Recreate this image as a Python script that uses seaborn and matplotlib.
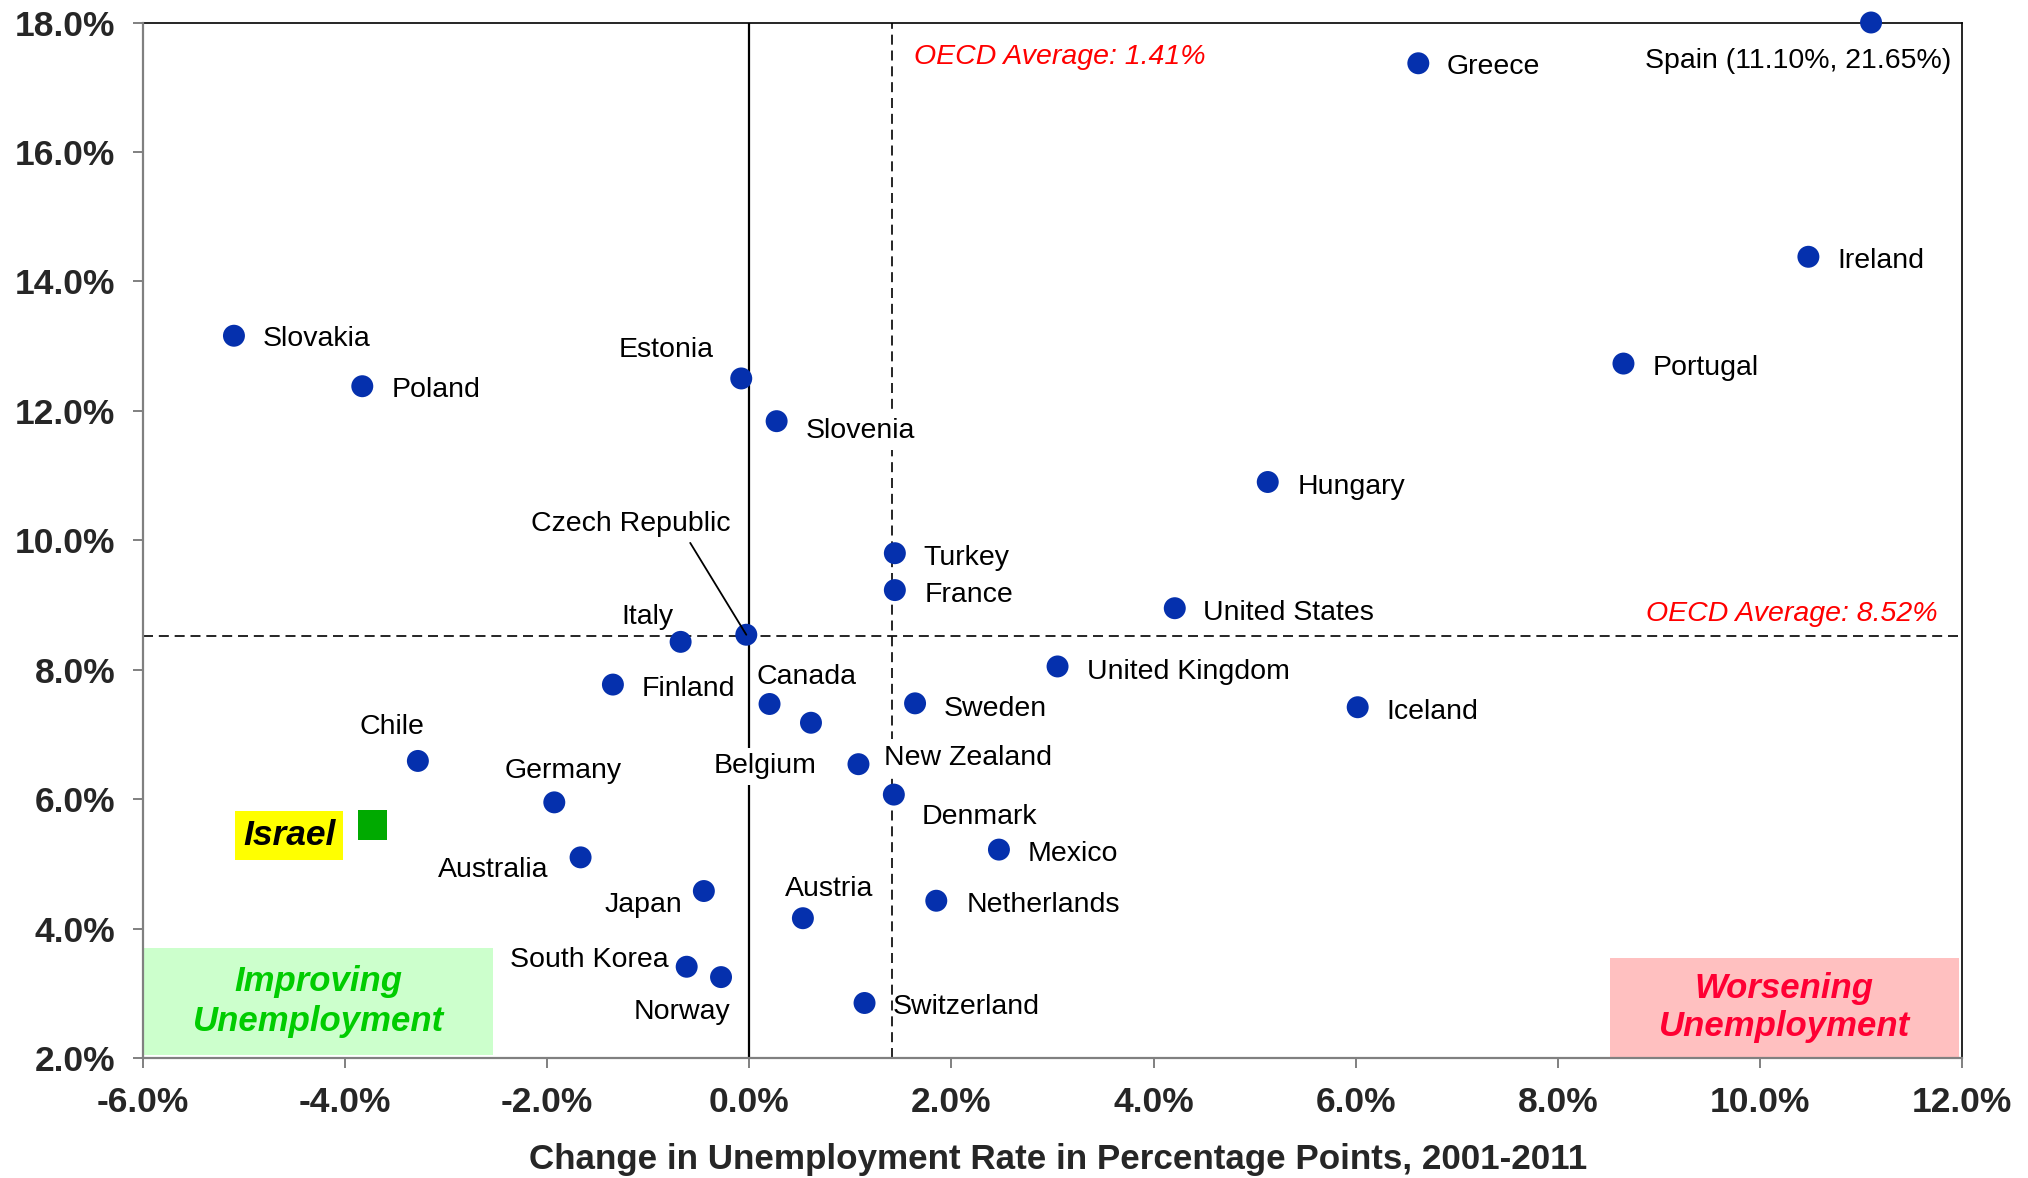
import numpy as np
import pandas as pd
import matplotlib
matplotlib.use("Agg")
import matplotlib.pyplot as plt
import seaborn as sns
from matplotlib.patches import Rectangle

# --- data: change in unemployment rate (pp, 2001-2011) vs. 2011 unemployment rate (%) ---
countries = [
    "Slovakia", "Poland", "Estonia", "Slovenia", "Czech Republic", "Italy",
    "Finland", "Canada", "Belgium", "New Zealand", "Denmark", "Chile",
    "Germany", "Australia", "Japan", "Austria", "South Korea", "Norway",
    "Switzerland", "Netherlands", "Mexico", "Sweden", "France", "Turkey",
    "United Kingdom", "United States", "Hungary", "Iceland", "Greece",
    "Portugal", "Ireland", "Spain (11.10%, 21.65%)",
]
change = [
    -5.10, -3.83, -0.08, 0.27, -0.03, -0.68,
    -1.35, 0.20, 0.61, 1.08, 1.43, -3.28,
    -1.93, -1.67, -0.45, 0.53, -0.62, -0.28,
    1.14, 1.85, 2.47, 1.64, 1.44, 1.44,
    3.05, 4.21, 5.13, 6.02, 6.62,
    8.65, 10.48, 11.10,
]
rate = [
    13.16, 12.38, 12.50, 11.84, 8.54, 8.43,
    7.77, 7.47, 7.18, 6.54, 6.07, 6.59,
    5.95, 5.10, 4.58, 4.16, 3.41, 3.25,
    2.85, 4.43, 5.22, 7.48, 9.23, 9.80,
    8.05, 8.95, 10.90, 7.42, 17.37,
    12.73, 14.38, 21.65,
]

israel_change = [-3.73]
israel_rate = [5.60]

oecd_avg_change = 1.41
oecd_avg_rate = 8.52

x_ticks = [-6, -4, -2, 0, 2, 4, 6, 8, 10, 12]
y_ticks = [2, 4, 6, 8, 10, 12, 14, 16, 18]
x_label = "Change in Unemployment Rate in Percentage Points, 2001-2011"

# --- label placement: offset from the marker in pixels (dx, dy up), alignment ---
PX = 0.72      # points per pixel at 100 dpi
BASE_DY = -3.5  # small downward nudge so the glyphs sit level with the markers
label_layout = {
    "Slovakia": (29, 0, "left"),
    "Poland": (29, 0, "left"),
    "Estonia": (-28, 31.6, "right"),
    "Slovenia": (28.6, -6.7, "left"),
    "Italy": (-6.7, 28.4, "right"),
    "Finland": (28.5, -0.7, "left"),
    "Canada": (-12.6, 30.7, "left"),
    "Belgium": (6, -40, "right"),
    "New Zealand": (26, 10, "left"),
    "Denmark": (28, -19, "left"),
    "Chile": (6.25, 37.4, "right"),
    "Germany": (8.7, 34.4, "center"),
    "Australia": (-32.6, -9.4, "right"),
    "Japan": (-21.7, -10.7, "right"),
    "Austria": (26, 33, "center"),
    "South Korea": (-17.9, 10, "right"),
    "Norway": (9.6, -31.3, "right"),
    "Switzerland": (28, -0.7, "left"),
    "Netherlands": (30, -1, "left"),
    "Mexico": (29, -0.7, "left"),
    "Sweden": (28.5, -1.7, "left"),
    "France": (30, -1.7, "left"),
    "Turkey": (29, -1.7, "left"),
    "United Kingdom": (29, -1.6, "left"),
    "United States": (28.6, -1, "left"),
    "Hungary": (29.4, -1, "left"),
    "Iceland": (29, -1, "left"),
    "Greece": (28.4, 0, "left"),
    "Portugal": (29, -1, "left"),
    "Ireland": (29, -0.6, "left"),
    "Spain (11.10%, 21.65%)": (80, -34.7, "right"),
}
# labels drawn on a white background so guide lines pass behind them
boxed_labels = {"Belgium", "New Zealand", "Slovenia"}

sns.set_style("white")
plt.rcParams["font.family"] = ["Liberation Sans", "DejaVu Sans"]

W, H = 2028, 1178
fig = plt.figure(figsize=(W / 100, H / 100), dpi=100)
ax = fig.add_axes([143 / W, 1 - 1058 / H, 1819 / W, 1035.5 / H])

x_lim = (x_ticks[0], x_ticks[-1])
y_lim = (y_ticks[0], y_ticks[-1])

df = pd.DataFrame({"country": countries, "change": change, "rate": rate})
# values above the axis ceiling sit on the top edge
df["plotted_rate"] = df["rate"].clip(upper=y_lim[1])

# quadrant shading boxes
ax.add_patch(Rectangle((0.0005, 0.003), 0.192, 0.1035, transform=ax.transAxes,
                       facecolor="#CCFFCC", edgecolor="none", zorder=1))
ax.text(0.0965, 0.0545, "Improving\nUnemployment", transform=ax.transAxes,
        ha="center", va="center", fontsize=25, fontweight="bold", style="italic",
        color="#00CC00", linespacing=1.25, zorder=2)
ax.add_patch(Rectangle((0.8063, 0.0013), 0.192, 0.0956, transform=ax.transAxes,
                       facecolor="#FFC0C0", edgecolor="none", zorder=1))
ax.text(0.9023, 0.049, "Worsening\nUnemployment", transform=ax.transAxes,
        ha="center", va="center", fontsize=25, fontweight="bold", style="italic",
        color="#FF0033", linespacing=1.2, zorder=2)

# reference lines
ax.axvline(0, color="black", lw=1.6, zorder=2)
ax.axvline(oecd_avg_change, color="black", lw=1.2, ls=(0, (6, 3.5)), zorder=2)
ax.axhline(oecd_avg_rate, color="black", lw=1.2, ls=(0, (6, 3.5)), zorder=2)

ax.annotate(f"OECD Average: {oecd_avg_change:.2f}%", xy=(oecd_avg_change, y_lim[1]),
            xytext=(22 * PX, (-31 + BASE_DY) * PX), textcoords="offset points",
            ha="left", va="center", fontsize=20.5, style="italic", color="#FF0000")
ax.annotate(f"OECD Average: {oecd_avg_rate:.2f}%", xy=(x_lim[1], oecd_avg_rate),
            xytext=(-24.4 * PX, (25.3 + BASE_DY) * PX), textcoords="offset points",
            ha="right", va="center", fontsize=20.5, style="italic", color="#FF0000")

# country markers
sns.scatterplot(data=df, x="change", y="plotted_rate", ax=ax, s=250,
                color="#0530AD", edgecolor="none", linewidth=0,
                clip_on=False, zorder=4)
sns.scatterplot(x=israel_change, y=israel_rate, ax=ax, marker="s", s=440,
                color="#00AA00", edgecolor="none", linewidth=0, zorder=4)

# country labels
for _, row in df.iterrows():
    name = row["country"]
    if name == "Czech Republic":
        ax.annotate(name, xy=(row["change"], row["plotted_rate"]),
                    xytext=(-115.4 * PX, (114 + BASE_DY) * PX), textcoords="offset points",
                    ha="center", va="center", fontsize=20.5, color="black",
                    arrowprops=dict(arrowstyle="-", color="black", lw=1.3,
                                    relpos=(0.78, 0.0), shrinkA=2, shrinkB=0),
                    zorder=5)
        continue
    dx, dy, ha = label_layout[name]
    kw = {}
    if name in boxed_labels:
        kw["bbox"] = dict(boxstyle="square,pad=0.2", fc="white", ec="none")
    ax.annotate(name, xy=(row["change"], row["plotted_rate"]),
                xytext=(dx * PX, (dy + BASE_DY) * PX), textcoords="offset points",
                ha=ha, va="center", fontsize=20.5, color="black", zorder=5, **kw)

ax.annotate("Israel", xy=(israel_change[0], israel_rate[0]),
            xytext=(-83 * PX, -10.5 * PX), textcoords="offset points",
            ha="center", va="center", fontsize=25.5, fontweight="bold", style="italic",
            color="black", zorder=5,
            bbox=dict(boxstyle="square,pad=0.22", fc="#FFFF00", ec="none"))

# axes styling
ax.set_xlim(*x_lim)
ax.set_ylim(*y_lim)
ax.set_xticks(x_ticks)
ax.set_xticklabels([f"{v:.1f}%" for v in x_ticks])
ax.set_yticks(y_ticks)
ax.set_yticklabels([f"{v:.1f}%" for v in y_ticks])
ax.tick_params(axis="both", which="major", direction="out", length=7.2,
               width=1.4, color="#808080", labelsize=25.5, bottom=True, left=True)
ax.tick_params(axis="x", pad=13.0)
ax.tick_params(axis="y", pad=12.7)
for lab in ax.get_xticklabels() + ax.get_yticklabels():
    lab.set_fontweight("bold")

for side in ("left", "bottom"):
    ax.spines[side].set_color("#808080")
    ax.spines[side].set_linewidth(1.6)
    ax.spines[side].set_zorder(6)
for side in ("top", "right"):
    ax.spines[side].set_color("black")
    ax.spines[side].set_linewidth(1.2)

ax.set_xlabel(x_label, fontsize=25.2, fontweight="bold")
ax.set_ylabel("")
ax.xaxis.set_label_coords((1058 - 143) / 1819, -102 / 1035.5)
ax.xaxis.label.set_va("center")
ax.grid(False)

fig.savefig("out.png", dpi=100, facecolor="white")
